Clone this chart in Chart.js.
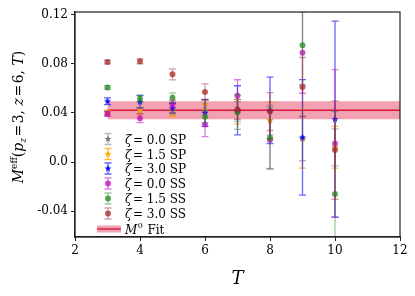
<!DOCTYPE html>
<html>
<head>
<meta charset="utf-8">
<script src="https://cdn.jsdelivr.net/npm/chart.js@4.4.0/dist/chart.umd.min.js"></script>
<style>
  html, body { margin: 0; padding: 0; background: #fff; }
  #wrap { width: 415px; height: 296px; }
</style>
</head>
<body>
<div id="wrap"><canvas id="graph1" width="415" height="296"></canvas></div>
<script>
// data
var times = [3, 4, 5, 6, 7, 8, 9, 10];

var sp00 = [0.040, 0.0416, 0.040, 0.0466, 0.041, 0.034, 0.019, 0.012];
var sp00Err = [0.0015, 0.0025, 0.0025, 0.0035, 0.008, 0.012, 0.018, 0.015];
var sp15 = [0.040, 0.0416, 0.040, 0.0466, 0.041, 0.034, 0.019, 0.012];
var sp15Err = [0.002, 0.003, 0.003, 0.004, 0.010, 0.015, 0.024, 0.017];
var sp30 = [0.0494, 0.049, 0.0438, 0.040, 0.042, 0.042, 0.020, 0.0348];
var sp30Err = [0.0027, 0.005, 0.004, 0.011, 0.020, 0.027, 0.047, 0.0797];
var ss00 = [0.0391, 0.0356, 0.047, 0.0306, 0.0539, 0.0178, 0.0889, 0.0151];
var ss00Err = [0.002, 0.0035, 0.003, 0.010, 0.013, 0.0235, 0.033, 0.060];
var ss15 = [0.0606, 0.0516, 0.0523, 0.0369, 0.0405, 0.0197, 0.0949, -0.026];
var ss15Err = [0.0015, 0.003, 0.004, 0.005, 0.014, 0.025, 0.032, 0.067];
var ss30 = [0.0813, 0.0819, 0.0713, 0.057, 0.0427, 0.041, 0.061, 0.0097];
var ss30Err = [0.0015, 0.002, 0.0045, 0.0065, 0.008, 0.0154, 0.024, 0.040];

var fitRange = [3, 12];
var fitValue = 0.0421;
var fitErr = 0.0073;

var yTicks = [-0.04, 0.0, 0.04, 0.08, 0.12];
var yTickLabels = ['-0.04', '0.0', '0.04', '0.08', '0.12'];
var xTicks = [2, 4, 6, 8, 10, 12];

var serif = "'DejaVu Serif', serif";

// filled star marker like matplotlib '*'
function makeStar(color, r) {
    var c = document.createElement('canvas');
    var s = Math.ceil(r * 2 + 2);
    c.width = s; c.height = s;
    var g = c.getContext('2d');
    g.fillStyle = color;
    g.beginPath();
    for (var k = 0; k < 10; k++) {
        var rad = (k % 2 === 0) ? r : r * 0.45;
        var ang = -Math.PI / 2 + k * Math.PI / 5;
        var px = s / 2 + rad * Math.cos(ang), py = s / 2 + rad * Math.sin(ang);
        if (k === 0) g.moveTo(px, py); else g.lineTo(px, py);
    }
    g.closePath();
    g.fill();
    return c;
}

function pts(vals) {
    return times.map(function(t, i) { return { x: t, y: vals[i] }; });
}

var series = [
    { label: '0.0 SP', vals: sp00, errs: sp00Err, bar: 'rgba(128,128,128,0.55)', mark: 'rgba(110,110,110,0.9)', star: true },
    { label: '1.5 SP', vals: sp15, errs: sp15Err, bar: 'rgba(255,165,0,0.75)', mark: 'rgba(255,165,0,0.95)', star: true },
    { label: '3.0 SP', vals: sp30, errs: sp30Err, bar: 'rgba(0,0,255,0.6)', mark: 'rgba(0,0,255,0.95)', star: true },
    { label: '0.0 SS', vals: ss00, errs: ss00Err, bar: 'rgba(191,0,191,0.5)', mark: 'rgba(191,0,191,0.7)', star: false },
    { label: '1.5 SS', vals: ss15, errs: ss15Err, bar: 'rgba(34,139,34,0.45)', mark: 'rgba(34,139,34,0.75)', star: false },
    { label: '3.0 SS', vals: ss30, errs: ss30Err, bar: 'rgba(165,42,42,0.45)', mark: 'rgba(165,42,42,0.75)', star: false }
];

var datasets = series.map(function(s, i) {
    return {
        label: s.label,
        data: pts(s.vals),
        errs: s.errs,
        barColor: s.bar,
        showLine: false,
        pointStyle: s.star ? makeStar(s.mark, 3.6) : 'circle',
        pointRadius: s.star ? 4 : 3,
        backgroundColor: s.mark,
        borderColor: s.mark,
        borderWidth: 0,
        order: 6 - i
    };
});

// fit line and band
datasets.push({
    label: 'fit',
    type: 'line',
    data: fitRange.map(function(x) { return { x: x, y: fitValue }; }),
    borderColor: '#DC143C',
    borderWidth: 1.3,
    pointRadius: 0,
    fill: false,
    order: 10
});
datasets.push({
    label: 'bandHi',
    type: 'line',
    data: fitRange.map(function(x) { return { x: x, y: fitValue + fitErr }; }),
    borderWidth: 0,
    borderColor: 'rgba(0,0,0,0)',
    backgroundColor: 'rgba(220,20,60,0.4)',
    pointRadius: 0,
    fill: '+1',
    order: 11
});
datasets.push({
    label: 'bandLo',
    type: 'line',
    data: fitRange.map(function(x) { return { x: x, y: fitValue - fitErr }; }),
    borderWidth: 0,
    borderColor: 'rgba(0,0,0,0)',
    pointRadius: 0,
    fill: false,
    order: 12
});

// error bars, drawn under each dataset's own markers
var errorBars = {
    id: 'errorBars',
    beforeDatasetDraw: function(chart, args) {
        var ds = chart.data.datasets[args.index];
        if (!ds.errs) return;
        var xs = chart.scales.x, ys = chart.scales.y, ctx = chart.ctx, a = chart.chartArea;
        ctx.save();
        ctx.beginPath();
        ctx.rect(a.left, a.top, a.right - a.left, a.bottom - a.top);
        ctx.clip();
        ctx.strokeStyle = ds.barColor;
        ctx.lineWidth = 1.3;
        ds.data.forEach(function(p, i) {
            var px = xs.getPixelForValue(p.x);
            var y1 = ys.getPixelForValue(p.y + ds.errs[i]);
            var y2 = ys.getPixelForValue(p.y - ds.errs[i]);
            ctx.beginPath();
            ctx.moveTo(px, y1); ctx.lineTo(px, y2);
            ctx.moveTo(px - 3.5, y1); ctx.lineTo(px + 3.5, y1);
            ctx.moveTo(px - 3.5, y2); ctx.lineTo(px + 3.5, y2);
            ctx.stroke();
        });
        ctx.restore();
    }
};

// frame, axis titles and legend
var decor = {
    id: 'decor',
    afterDraw: function(chart) {
        var ctx = chart.ctx, a = chart.chartArea;
        ctx.save();
        ctx.strokeStyle = '#222';
        ctx.lineWidth = 1.2;
        ctx.strokeRect(a.left, a.top, a.right - a.left, a.bottom - a.top);

        ctx.fillStyle = '#000';
        ctx.textBaseline = 'alphabetic';

        // x title
        ctx.font = 'italic 18px ' + serif;
        ctx.textAlign = 'center';
        ctx.fillText('T', (a.left + a.right) / 2, 284);

        // y title, rotated
        var parts = [
            { t: 'M', f: 'italic 14px ' + serif, dy: 0 },
            { t: 'eff', f: '9px ' + serif, dy: -6 },
            { t: '(', f: '14px ' + serif, dy: 0 },
            { t: 'p', f: 'italic 14px ' + serif, dy: 0 },
            { t: 'z', f: 'italic 9px ' + serif, dy: 3 },
            { t: '=3, ', f: '14px ' + serif, dy: 0 },
            { t: 'z', f: 'italic 14px ' + serif, dy: 0 },
            { t: '=6, ', f: '14px ' + serif, dy: 0 },
            { t: 'T', f: 'italic 14px ' + serif, dy: 0 },
            { t: ')', f: '14px ' + serif, dy: 0 }
        ];
        var total = 0;
        parts.forEach(function(p) {
            ctx.font = p.f;
            p.w = ctx.measureText(p.t).width + (p.t.charAt(0) === '=' ? 3 : 0);
            total += p.w;
        });
        ctx.translate(23, 117);
        ctx.rotate(-Math.PI / 2);
        ctx.textAlign = 'left';
        var cx = -total / 2;
        parts.forEach(function(p) {
            ctx.font = p.f;
            if (p.t.charAt(0) === '=') {
                ctx.fillText('=', cx + 1.5, p.dy);
                var ew = ctx.measureText('=').width;
                ctx.fillText(p.t.slice(1), cx + ew + 3, p.dy);
            } else {
                ctx.fillText(p.t, cx, p.dy);
            }
            cx += p.w;
        });
        ctx.setTransform(1, 0, 0, 1, 0, 0);

        // legend
        var rowY = [139, 154, 168.5, 183.5, 198.5, 213.5];
        var gx = 108, tx = 125;
        series.forEach(function(s, i) {
            var y = rowY[i];
            ctx.strokeStyle = s.bar;
            ctx.lineWidth = 1.3;
            ctx.beginPath();
            ctx.moveTo(gx, y - 5.5); ctx.lineTo(gx, y + 5.5);
            ctx.moveTo(gx - 3.5, y - 5.5); ctx.lineTo(gx + 3.5, y - 5.5);
            ctx.moveTo(gx - 3.5, y + 5.5); ctx.lineTo(gx + 3.5, y + 5.5);
            ctx.stroke();
            ctx.fillStyle = s.mark;
            if (s.star) {
                var st = makeStar(s.mark, 3.6);
                ctx.drawImage(st, gx - st.width / 2, y - st.height / 2);
            } else {
                ctx.beginPath(); ctx.arc(gx, y, 3, 0, Math.PI * 2); ctx.fill();
            }
            ctx.fillStyle = '#000';
            ctx.textAlign = 'left';
            ctx.font = 'italic 12px ' + serif;
            ctx.fillText('\u03b6', tx, y + 4.5);
            var w = ctx.measureText('\u03b6').width;
            ctx.font = '12px ' + serif;
            ctx.fillText('= ' + s.label, tx + w + 1.5, y + 4.5);
        });
        // fit entry
        var fy = 229;
        ctx.fillStyle = 'rgba(220,20,60,0.4)';
        ctx.fillRect(97, fy - 3.5, 24, 7);
        ctx.strokeStyle = '#DC143C';
        ctx.lineWidth = 1.3;
        ctx.beginPath(); ctx.moveTo(97, fy); ctx.lineTo(121, fy); ctx.stroke();
        ctx.fillStyle = '#000';
        ctx.font = 'italic 12px ' + serif;
        ctx.fillText('M', tx, fy + 4.5);
        var mw = ctx.measureText('M').width;
        ctx.font = '8px ' + serif;
        ctx.fillText('0', tx + mw + 0.5, fy - 1);
        var zw = ctx.measureText('0').width;
        ctx.font = '12px ' + serif;
        ctx.fillText('Fit', tx + mw + zw + 5, fy + 4.5);
        ctx.restore();
    }
};

var tickFont = { family: serif, size: 12 };

var ctx = document.getElementById('graph1').getContext('2d');
var myChart = new Chart(ctx, {
    type: 'scatter',
    data: { datasets: datasets },
    options: {
        responsive: false,
        animation: false,
        layout: { padding: { left: 0, right: 15, top: 12, bottom: 0 } },
        plugins: {
            legend: { display: false },
            tooltip: { enabled: false }
        },
        scales: {
            x: {
                type: 'linear',
                min: 2,
                max: 12,
                afterBuildTicks: function(scale) {
                    scale.ticks = xTicks.map(function(v) { return { value: v }; });
                },
                afterFit: function(scale) { scale.height = 59; },
                grid: { drawOnChartArea: false, drawTicks: true, tickLength: 4, color: '#222' },
                border: { color: '#222', width: 1.2 },
                ticks: { color: '#000', font: tickFont, padding: 3, maxRotation: 0 }
            },
            y: {
                type: 'linear',
                min: -0.061,
                max: 0.122,
                afterBuildTicks: function(scale) {
                    scale.ticks = yTicks.map(function(v) { return { value: v }; });
                },
                afterFit: function(scale) { scale.width = 75; },
                grid: { drawOnChartArea: false, drawTicks: true, tickLength: 4, color: '#222' },
                border: { color: '#222', width: 1.2 },
                ticks: {
                    color: '#000',
                    font: tickFont,
                    padding: 3,
                    callback: function(v) {
                        var k = yTicks.indexOf(v);
                        return k >= 0 ? yTickLabels[k] : '';
                    }
                }
            }
        }
    },
    plugins: [errorBars, decor]
});
</script>
</body>
</html>
